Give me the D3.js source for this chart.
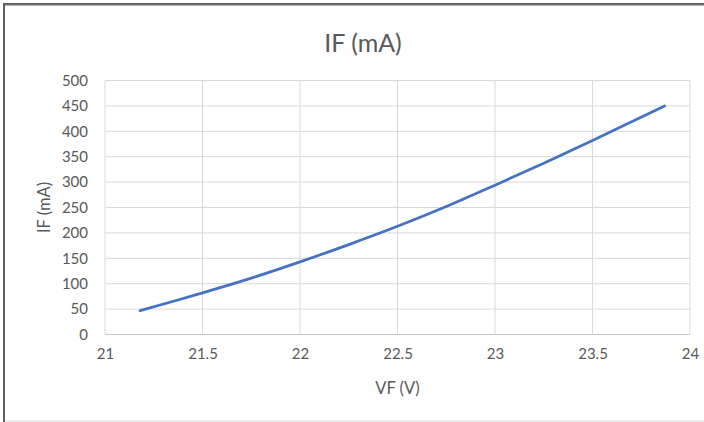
<!DOCTYPE html>
<html>
<head>
<meta charset="utf-8">
<script src="https://cdn.jsdelivr.net/npm/d3@7"></script>
<style>
  html, body { margin: 0; padding: 0; background: #fff; }
  svg { display: block; }
  text { font-family: Lato, "Open Sans", sans-serif; fill: #595959; }
</style>
</head>
<body>
<svg id="chart" width="704" height="422"></svg>
<script>
const vf = [21.18, 21.5, 21.75, 22.0, 22.25, 22.5, 22.75, 23.0, 23.25, 23.5, 23.87];
const ifmA = [47, 82, 111, 143, 177, 213, 252, 294, 337, 382, 450];
const xTicks = [21, 21.5, 22, 22.5, 23, 23.5, 24];
const yTicks = [0, 50, 100, 150, 200, 250, 300, 350, 400, 450, 500];
const chartTitle = "IF (mA)";
const xTitle = "VF (V)";
const yTitle = "IF (mA)";

const svg = d3.select("#chart");
const W = 704, H = 422;
const m = { left: 105, right: 14, top: 80.5, bottom: 87.5 };

// frame
svg.append("line").attr("x1", 3).attr("x2", W).attr("y1", 4).attr("y2", 4)
  .attr("stroke", "#2b2b2b").attr("stroke-width", 1.5);
svg.append("line").attr("x1", 3).attr("x2", W).attr("y1", 5.3).attr("y2", 5.3)
  .attr("stroke", "#a0a0a0").attr("stroke-width", 1);
svg.append("line").attr("x1", 4).attr("x2", 4).attr("y1", 4).attr("y2", H)
  .attr("stroke", "#606060").attr("stroke-width", 2);
svg.append("line").attr("x1", 5).attr("x2", W).attr("y1", 421).attr("y2", 421)
  .attr("stroke", "#dedede").attr("stroke-width", 1);

const x = d3.scaleLinear().domain([21, 24]).range([m.left, W - m.right]);
const y = d3.scaleLinear().domain([0, 500]).range([H - m.bottom, m.top]);

// gridlines
svg.append("g").selectAll("line").data(yTicks.filter(d => d > 0)).join("line")
  .attr("x1", x(21)).attr("x2", x(24))
  .attr("y1", d => y(d)).attr("y2", d => y(d))
  .attr("stroke", "#d9d9d9").attr("stroke-width", 1);
svg.append("g").selectAll("line").data(xTicks).join("line")
  .attr("x1", d => x(d)).attr("x2", d => x(d))
  .attr("y1", y(0)).attr("y2", y(500))
  .attr("stroke", "#d9d9d9").attr("stroke-width", 1);
// x axis baseline
svg.append("line").attr("x1", x(21)).attr("x2", x(24))
  .attr("y1", y(0)).attr("y2", y(0))
  .attr("stroke", "#c8c8c8").attr("stroke-width", 1);

// axes with d3 axis generators
const xAxis = d3.axisBottom(x).tickValues(xTicks).tickSize(0).tickPadding(14)
  .tickFormat(d => d3.format("")(d));
const gx = svg.append("g").attr("transform", `translate(0,${y(0)})`).call(xAxis);
gx.select(".domain").remove();
gx.selectAll("text").attr("font-size", 15).attr("font-family", "Lato, 'Open Sans', sans-serif").attr("fill", "#595959");

const yAxis = d3.axisLeft(y).tickValues(yTicks).tickSize(0).tickPadding(17);
const gy = svg.append("g").attr("transform", `translate(${m.left},0)`).call(yAxis);
gy.select(".domain").remove();
gy.selectAll("text").attr("font-size", 15).attr("font-family", "Lato, 'Open Sans', sans-serif").attr("fill", "#595959");

// line
const line = d3.line().x((d, i) => x(vf[i])).y(d => y(d)).curve(d3.curveCatmullRom.alpha(0.5));
svg.append("path").datum(ifmA).attr("d", line)
  .attr("fill", "none").attr("stroke", "#4472C4").attr("stroke-width", 2.75)
  .attr("stroke-linecap", "round");

// titles
svg.append("text").attr("x", 363).attr("y", 51.5).attr("text-anchor", "middle")
  .attr("font-size", 25).text(chartTitle);
svg.append("text").attr("x", (x(21) + x(24)) / 2).attr("y", 394).attr("text-anchor", "middle")
  .attr("font-size", 16.5).text(xTitle);
svg.append("text").attr("transform", `translate(50,${(y(0) + y(500)) / 2}) rotate(-90)`)
  .attr("text-anchor", "middle").attr("font-size", 16.5).text(yTitle);
</script>
</body>
</html>
